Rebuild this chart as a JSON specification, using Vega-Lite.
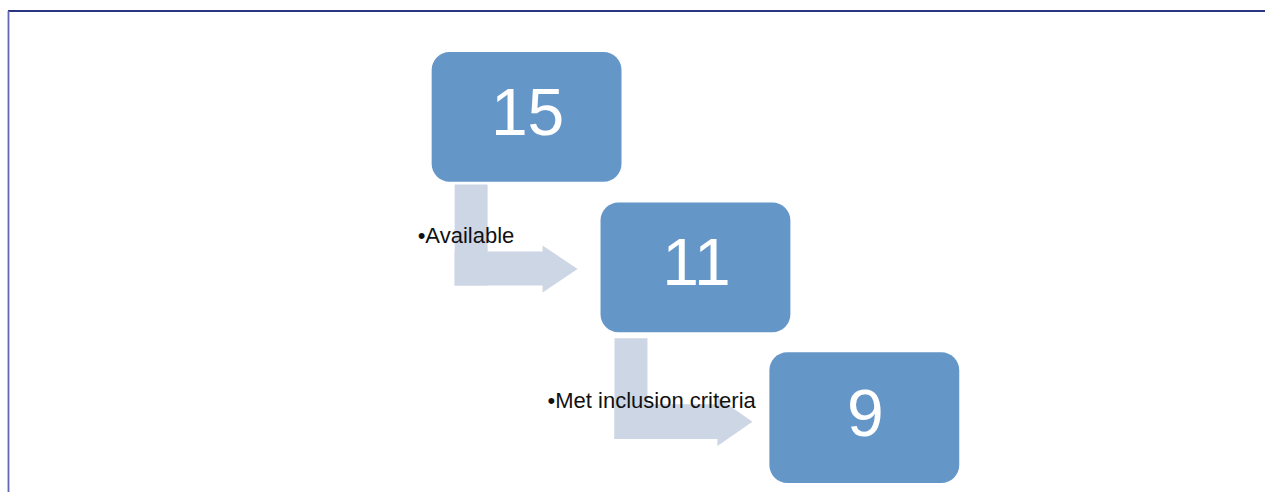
{
  "$schema": "https://vega.github.io/schema/vega-lite/v6.json",
  "width": 1266,
  "height": 493,
  "autosize": {"type": "fit", "contains": "padding"},
  "padding": 0,
  "background": "white",
  "config": {"view": {"stroke": null}},
  "datasets": {
    "boxes": [
      {"step": "Total", "n": "15", "x": 432, "x2": 622, "y": 52, "y2": 182, "cx": 528, "ty": 135},
      {"step": "Available", "n": "11", "x": 601, "x2": 791, "y": 203, "y2": 333, "cx": 697, "ty": 286},
      {"step": "Met inclusion criteria", "n": "9", "x": 770, "x2": 960, "y": 353, "y2": 484, "cx": 866, "ty": 437}
    ],
    "bars": [
      {"arrow": "a1", "x": 455, "x2": 488, "y": 185, "y2": 286},
      {"arrow": "a1", "x": 455, "x2": 544, "y": 252, "y2": 286},
      {"arrow": "a2", "x": 615, "x2": 648, "y": 339, "y2": 440},
      {"arrow": "a2", "x": 615, "x2": 719, "y": 405, "y2": 440}
    ],
    "heads": [
      {"arrow": "a1", "x": 543, "y": 246, "y2": 293},
      {"arrow": "a1", "x": 578, "y": 269.5, "y2": 269.5},
      {"arrow": "a2", "x": 718, "y": 398, "y2": 447},
      {"arrow": "a2", "x": 753, "y": 422.5, "y2": 422.5}
    ],
    "labels": [
      {"label": "•Available", "x": 418, "y": 243},
      {"label": "•Met inclusion criteria", "x": 548, "y": 409}
    ],
    "frame": [
      {"side": "top", "x": 8, "x2": 1266, "y": 11, "y2": 11},
      {"side": "left", "x": 8.5, "x2": 8.5, "y": 11, "y2": 493}
    ]
  },
  "layer": [
    {
      "data": {"name": "frame"},
      "mark": {"type": "rule", "strokeWidth": 1.8},
      "encoding": {
        "x": {"field": "x", "type": "quantitative", "scale": {"domain": [0, 1266], "nice": false, "zero": false}, "axis": null},
        "x2": {"field": "x2"},
        "y": {"field": "y", "type": "quantitative", "scale": {"domain": [0, 493], "reverse": true, "nice": false, "zero": false}, "axis": null},
        "y2": {"field": "y2"},
        "color": {"field": "side", "type": "nominal", "scale": {"domain": ["top", "left"], "range": ["#2b3580", "#6269ad"]}, "legend": null}
      }
    },
    {
      "data": {"name": "bars"},
      "mark": {"type": "rect", "color": "#cdd6e5"},
      "encoding": {
        "x": {"field": "x", "type": "quantitative", "axis": null},
        "x2": {"field": "x2"},
        "y": {"field": "y", "type": "quantitative", "axis": null},
        "y2": {"field": "y2"}
      }
    },
    {
      "data": {"name": "heads"},
      "mark": {"type": "area", "color": "#cdd6e5", "opacity": 1},
      "encoding": {
        "x": {"field": "x", "type": "quantitative", "axis": null},
        "y": {"field": "y", "type": "quantitative", "axis": null},
        "y2": {"field": "y2"},
        "detail": {"field": "arrow"}
      }
    },
    {
      "data": {"name": "boxes"},
      "mark": {"type": "rect", "color": "#6496c8", "cornerRadius": 18},
      "encoding": {
        "x": {"field": "x", "type": "quantitative", "axis": null},
        "x2": {"field": "x2"},
        "y": {"field": "y", "type": "quantitative", "axis": null},
        "y2": {"field": "y2"}
      }
    },
    {
      "data": {"name": "boxes"},
      "mark": {"type": "text", "color": "white", "font": "Liberation Sans", "fontSize": 66, "align": "center", "baseline": "alphabetic"},
      "encoding": {
        "x": {"field": "cx", "type": "quantitative", "axis": null},
        "y": {"field": "ty", "type": "quantitative", "axis": null},
        "text": {"field": "n"}
      }
    },
    {
      "data": {"name": "labels"},
      "mark": {"type": "text", "color": "#111111", "font": "Liberation Sans", "fontSize": 22, "align": "left", "baseline": "alphabetic"},
      "encoding": {
        "x": {"field": "x", "type": "quantitative", "axis": null},
        "y": {"field": "y", "type": "quantitative", "axis": null},
        "text": {"field": "label"}
      }
    }
  ]
}
